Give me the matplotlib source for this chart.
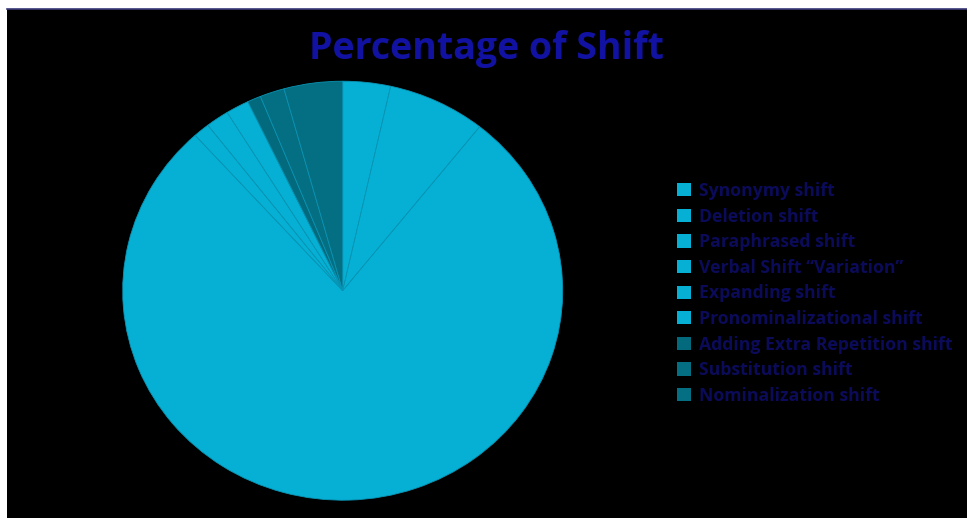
import matplotlib.pyplot as plt

labels = ['Synonymy shift', 'Deletion shift', 'Paraphrased shift',
          'Verbal Shift “Variation”', 'Expanding shift', 'Pronominalizational shift',
          'Adding Extra Repetition shift', 'Substitution shift', 'Nominalization shift']
values = [3.5, 7.2, 77.6, 1.2, 1.7, 1.7, 1.0, 1.8, 4.3]
colors = ['#05B0D4', '#05B0D4', '#05B0D4', '#05B0D4', '#05B0D4', '#05B0D4',
          '#03697C', '#046E82', '#046E82']

fig = plt.figure(figsize=(9.67, 5.18), dpi=100, facecolor='white')

# black chart area with a thin white margin top/left
bg = fig.add_axes([7 / 967, 0, 1 - 7 / 967, 1 - 9 / 518])
bg.set_facecolor('black')
bg.set_xticks([])
bg.set_yticks([])
for s in bg.spines.values():
    s.set_visible(False)
bg.spines['top'].set_visible(True)
bg.spines['top'].set_color('#3a3a7a')
bg.spines['top'].set_linewidth(1.2)

cx, cy = 342.7 / 967, 1 - 290.7 / 518
w, h = 440 / 967, 419 / 518
ax = fig.add_axes([cx - w / 2, cy - h / 2, w, h])
wedges, _ = ax.pie(values, colors=colors, startangle=90, counterclock=False,
                   wedgeprops=dict(edgecolor='#0995B5', linewidth=0.6))
ax.set_aspect('auto')
ax.set_xlim(-1, 1)
ax.set_ylim(-1, 1)
ax.axis('off')

fig.text(486 / 967, 1 - 49 / 518, 'Percentage of Shift', ha='center', va='center',
         fontsize=27, fontweight='bold', color='#1212A2', family='Open Sans')

leg = fig.legend(wedges, labels, loc='upper left', bbox_to_anchor=(677 / 967, 1 - 182 / 518),
                 frameon=False, prop=dict(family='Open Sans', weight='bold', size=12.7),
                 labelspacing=0.43, handlelength=0.78, handleheight=0.78,
                 handletextpad=0.45, borderaxespad=0, borderpad=0)
for t in leg.get_texts():
    t.set_color('#0B0B5A')
for p in leg.legend_handles:
    p.set_edgecolor('none')

fig.savefig('out.png', dpi=100, facecolor=fig.get_facecolor())
